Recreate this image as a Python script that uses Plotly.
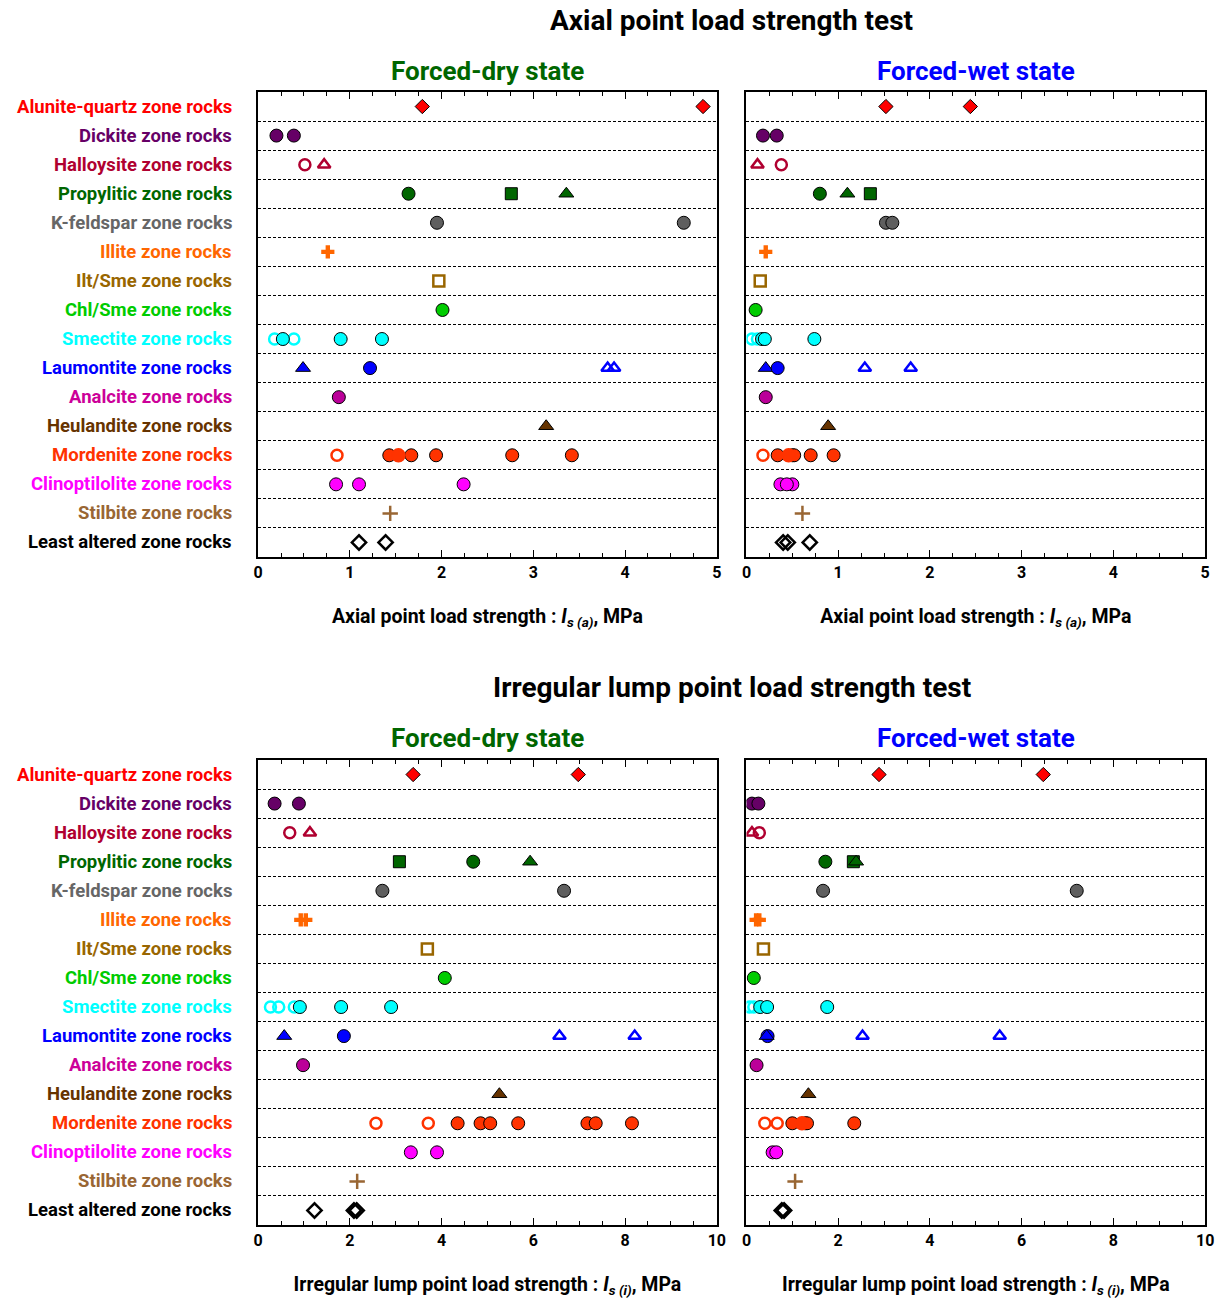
import plotly.graph_objects as go

# ---------------- data ----------------
CATEGORIES = [
    "Alunite-quartz zone rocks", "Dickite zone rocks", "Halloysite zone rocks",
    "Propylitic zone rocks", "K-feldspar zone rocks", "Illite zone rocks",
    "Ilt/Sme zone rocks", "Chl/Sme zone rocks", "Smectite zone rocks",
    "Laumontite zone rocks", "Analcite zone rocks", "Heulandite zone rocks",
    "Mordenite zone rocks", "Clinoptilolite zone rocks", "Stilbite zone rocks",
    "Least altered zone rocks",
]

# (category, sample kind, values in MPa)
AXIAL_DRY = [
    ("Alunite-quartz zone rocks", "diamond", [1.79, 4.85]),
    ("Dickite zone rocks", "circle", [0.20, 0.39]),
    ("Halloysite zone rocks", "circle_open", [0.51]),
    ("Halloysite zone rocks", "triangle_open", [0.72]),
    ("Propylitic zone rocks", "circle", [1.64]),
    ("Propylitic zone rocks", "square", [2.76]),
    ("Propylitic zone rocks", "triangle", [3.36]),
    ("K-feldspar zone rocks", "circle", [1.95, 4.64]),
    ("Illite zone rocks", "plus", [0.76]),
    ("Ilt/Sme zone rocks", "square_open", [1.97]),
    ("Chl/Sme zone rocks", "circle", [2.01]),
    ("Smectite zone rocks", "circle_open", [0.18, 0.39]),
    ("Smectite zone rocks", "circle", [0.27, 0.90, 1.35]),
    ("Laumontite zone rocks", "triangle", [0.49]),
    ("Laumontite zone rocks", "circle", [1.22]),
    ("Laumontite zone rocks", "triangle_open", [3.81, 3.88]),
    ("Analcite zone rocks", "circle", [0.88]),
    ("Heulandite zone rocks", "triangle", [3.14]),
    ("Mordenite zone rocks", "circle_open", [0.86]),
    ("Mordenite zone rocks", "circle", [1.43, 1.67, 1.94, 2.77, 3.42]),
    ("Mordenite zone rocks", "circle_self", [1.53]),
    ("Clinoptilolite zone rocks", "circle", [0.85, 1.10, 2.24]),
    ("Stilbite zone rocks", "plus_thin", [1.44]),
    ("Least altered zone rocks", "diamond_open", [1.10, 1.39]),
]

AXIAL_WET = [
    ("Alunite-quartz zone rocks", "diamond", [1.52, 2.44]),
    ("Dickite zone rocks", "circle", [0.18, 0.33]),
    ("Halloysite zone rocks", "triangle_open", [0.12]),
    ("Halloysite zone rocks", "circle_open", [0.38]),
    ("Propylitic zone rocks", "circle", [0.80]),
    ("Propylitic zone rocks", "triangle", [1.10]),
    ("Propylitic zone rocks", "square", [1.35]),
    ("K-feldspar zone rocks", "circle", [1.52, 1.59]),
    ("Illite zone rocks", "plus", [0.21]),
    ("Ilt/Sme zone rocks", "square_open", [0.15]),
    ("Chl/Sme zone rocks", "circle", [0.10]),
    ("Smectite zone rocks", "circle_open", [0.06, 0.12]),
    ("Smectite zone rocks", "circle", [0.17, 0.20, 0.74]),
    ("Laumontite zone rocks", "triangle", [0.21]),
    ("Laumontite zone rocks", "circle", [0.34]),
    ("Laumontite zone rocks", "triangle_open", [1.29, 1.79]),
    ("Analcite zone rocks", "circle", [0.21]),
    ("Heulandite zone rocks", "triangle", [0.89]),
    ("Mordenite zone rocks", "circle_open", [0.18]),
    ("Mordenite zone rocks", "circle", [0.34, 0.50, 0.52, 0.70, 0.95]),
    ("Mordenite zone rocks", "circle_self", [0.46]),
    ("Clinoptilolite zone rocks", "circle", [0.37, 0.50, 0.44]),
    ("Stilbite zone rocks", "plus_thin", [0.61]),
    ("Least altered zone rocks", "diamond_open", [0.40, 0.45, 0.69]),
]

LUMP_DRY = [
    ("Alunite-quartz zone rocks", "diamond", [3.38, 6.98]),
    ("Dickite zone rocks", "circle", [0.36, 0.89]),
    ("Halloysite zone rocks", "circle_open", [0.69]),
    ("Halloysite zone rocks", "triangle_open", [1.13]),
    ("Propylitic zone rocks", "square", [3.08]),
    ("Propylitic zone rocks", "circle", [4.69]),
    ("Propylitic zone rocks", "triangle", [5.93]),
    ("K-feldspar zone rocks", "circle", [2.71, 6.67]),
    ("Illite zone rocks", "plus", [0.93, 1.04]),
    ("Ilt/Sme zone rocks", "square_open", [3.69]),
    ("Chl/Sme zone rocks", "circle", [4.07]),
    ("Smectite zone rocks", "circle_open", [0.27, 0.45, 0.79]),
    ("Smectite zone rocks", "circle", [0.91, 1.81, 2.90]),
    ("Laumontite zone rocks", "triangle", [0.57]),
    ("Laumontite zone rocks", "circle", [1.87]),
    ("Laumontite zone rocks", "triangle_open", [6.57, 8.21]),
    ("Analcite zone rocks", "circle", [0.98]),
    ("Heulandite zone rocks", "triangle", [5.26]),
    ("Mordenite zone rocks", "circle_open", [2.57, 3.71]),
    ("Mordenite zone rocks", "circle", [4.35, 4.85, 5.06, 5.67, 7.18, 7.36, 8.15]),
    ("Clinoptilolite zone rocks", "circle", [3.33, 3.90]),
    ("Stilbite zone rocks", "plus_thin", [2.16]),
    ("Least altered zone rocks", "diamond_open", [1.23, 2.09, 2.15]),
]

LUMP_WET = [
    ("Alunite-quartz zone rocks", "diamond", [2.89, 6.47]),
    ("Dickite zone rocks", "circle", [0.12, 0.26]),
    ("Halloysite zone rocks", "triangle_open", [0.12]),
    ("Halloysite zone rocks", "circle_open", [0.28]),
    ("Propylitic zone rocks", "circle", [1.72]),
    ("Propylitic zone rocks", "square", [2.33]),
    ("Propylitic zone rocks", "triangle", [2.39]),
    ("K-feldspar zone rocks", "circle", [1.67, 7.20]),
    ("Illite zone rocks", "plus", [0.21, 0.28]),
    ("Ilt/Sme zone rocks", "square_open", [0.37]),
    ("Chl/Sme zone rocks", "circle", [0.16]),
    ("Smectite zone rocks", "circle_open", [0.07, 0.16]),
    ("Smectite zone rocks", "circle", [0.30, 0.45, 1.76]),
    ("Laumontite zone rocks", "circle", [0.46]),
    ("Laumontite zone rocks", "triangle", [0.44]),
    ("Laumontite zone rocks", "triangle_open", [2.53, 5.52]),
    ("Analcite zone rocks", "circle", [0.22]),
    ("Heulandite zone rocks", "triangle", [1.35]),
    ("Mordenite zone rocks", "circle_open", [0.40, 0.67]),
    ("Mordenite zone rocks", "circle", [1.00, 1.28, 1.32, 2.35]),
    ("Mordenite zone rocks", "circle_self", [1.21]),
    ("Clinoptilolite zone rocks", "circle", [0.57, 0.65]),
    ("Stilbite zone rocks", "plus_thin", [1.06]),
    ("Least altered zone rocks", "diamond_open", [0.77, 0.82]),
]

AXIAL_TICKS = [0, 1, 2, 3, 4, 5]
LUMP_TICKS = [0, 2, 4, 6, 8, 10]

# ---------------- styles ----------------
LABEL_COLORS = {
    "Alunite-quartz zone rocks": "#FF0000",
    "Dickite zone rocks": "#660066",
    "Halloysite zone rocks": "#B00030",
    "Propylitic zone rocks": "#006600",
    "K-feldspar zone rocks": "#666666",
    "Illite zone rocks": "#FF6600",
    "Ilt/Sme zone rocks": "#996600",
    "Chl/Sme zone rocks": "#00CC00",
    "Smectite zone rocks": "#00FFFF",
    "Laumontite zone rocks": "#0000FF",
    "Analcite zone rocks": "#CC0099",
    "Heulandite zone rocks": "#663300",
    "Mordenite zone rocks": "#FF3300",
    "Clinoptilolite zone rocks": "#FF00FF",
    "Stilbite zone rocks": "#996633",
    "Least altered zone rocks": "#000000",
}
MARKER_COLORS = dict(LABEL_COLORS)
MARKER_COLORS["K-feldspar zone rocks"] = "#5F5F5F"
MARKER_COLORS["Analcite zone rocks"] = "#BB0099"

FONT = "Roboto"


def marker_style(kind, color):
    if kind == "diamond":
        return dict(symbol="diamond", size=11, color=color, line=dict(color="black", width=1))
    if kind == "circle":
        return dict(symbol="circle", size=13, color=color, line=dict(color="black", width=1))
    if kind == "circle_self":
        return dict(symbol="circle", size=13, color=color, line=dict(color=color, width=1.5))
    if kind == "circle_open":
        return dict(symbol="circle-open", size=11, color=color, line=dict(color=color, width=2.5))
    if kind == "triangle":
        return dict(symbol="triangle-up", size=13, color=color, line=dict(color="black", width=1))
    if kind == "triangle_open":
        return dict(symbol="triangle-up-open", size=11, color=color, line=dict(color=color, width=2.5))
    if kind == "square":
        return dict(symbol="square", size=12, color=color, line=dict(color="black", width=1))
    if kind == "square_open":
        return dict(symbol="square-open", size=11, color=color, line=dict(color=color, width=2.5))
    if kind == "plus":
        return dict(symbol="cross", size=11, color=color, line=dict(width=0))
    if kind == "plus_thin":
        return dict(symbol="cross-thin-open", size=11, color=color, line=dict(color=color, width=2.5))
    if kind == "diamond_open":
        return dict(symbol="diamond-open", size=11, color="black", line=dict(color="black", width=2.5))
    return dict(symbol="circle", size=12, color=color)


W, H = 1231, 1298
fig = go.Figure()

panels = [
    (AXIAL_DRY, "x", "y"),
    (AXIAL_WET, "x2", "y2"),
    (LUMP_DRY, "x3", "y3"),
    (LUMP_WET, "x4", "y4"),
]
for data, xa, ya in panels:
    for cat, kind, vals in data:
        row = CATEGORIES.index(cat)
        fig.add_trace(go.Scatter(
            x=vals, y=[row] * len(vals), mode="markers",
            marker=marker_style(kind, MARKER_COLORS[cat]),
            xaxis=xa, yaxis=ya, showlegend=False, hoverinfo="x",
        ))

XL = [256 / W, 720 / W]
XR = [750 / W, 1214 / W]
YT = [1 - 557 / H, 1 - 92 / H]
YB = [1 - 1225 / H, 1 - 760 / H]

axial_title = "Axial point load strength : <i>I</i><sub><i>s (a)</i></sub>, MPa"
lump_title = "Irregular lump point load strength : <i>I</i><sub><i>s (i)</i></sub>, MPa"


def xaxis(domain, rng, ticks, minor, title, anchor):
    return dict(
        domain=domain, range=rng, anchor=anchor,
        tickmode="array", tickvals=ticks, ticktext=[str(t) for t in ticks],
        ticks="inside", ticklen=7, tickwidth=1, tickcolor="black",
        minor=dict(dtick=minor, tick0=0, ticks="inside", ticklen=4, tickcolor="black", tickwidth=1),
        mirror="ticks", showline=True, linecolor="black", linewidth=1.5,
        showgrid=False, zeroline=False,
        tickfont=dict(family=FONT, size=16, color="black", weight="bold"),
        title=dict(text=title, font=dict(family=FONT, size=19.5, color="black", weight="bold"),
                   standoff=28),
    )


def yaxis(domain, anchor):
    return dict(
        domain=domain, range=[15.5, -0.5], anchor=anchor,
        tickmode="array", tickvals=[i + 0.5 for i in range(15)],
        showticklabels=False, ticks="",
        showgrid=True, gridcolor="black", griddash="3px,2px", gridwidth=1,
        showline=True, linecolor="black", linewidth=1.5, mirror=True, zeroline=False,
    )


fig.update_layout(
    width=W, height=H,
    margin=dict(l=0, r=0, t=0, b=0),
    paper_bgcolor="white", plot_bgcolor="white",
    font=dict(family=FONT),
    xaxis=xaxis(XL, [0, 5], AXIAL_TICKS, 0.25, axial_title, "y"),
    yaxis=yaxis(YT, "x"),
    xaxis2=xaxis(XR, [0, 5], AXIAL_TICKS, 0.25, axial_title, "y2"),
    yaxis2=yaxis(YT, "x2"),
    xaxis3=xaxis(XL, [0, 10], LUMP_TICKS, 0.5, lump_title, "y3"),
    yaxis3=yaxis(YB, "x3"),
    xaxis4=xaxis(XR, [0, 10], LUMP_TICKS, 0.5, lump_title, "y4"),
    yaxis4=yaxis(YB, "x4"),
)

ann = []
for yref in ["y", "y3"]:
    for i, cat in enumerate(CATEGORIES):
        ann.append(dict(
            text=cat, x=232 / W, xref="paper", xanchor="right",
            y=i, yref=yref, yanchor="middle", showarrow=False,
            font=dict(family=FONT, size=18.5, color=LABEL_COLORS[cat], weight="bold"),
        ))

for title, ypix in [("Axial point load strength test", 20), ("Irregular lump point load strength test", 687)]:
    ann.append(dict(text=title, x=735 / W, y=1 - ypix / H, xref="paper", yref="paper",
                    xanchor="center", yanchor="middle", showarrow=False,
                    font=dict(family=FONT, size=28, color="black", weight="bold")))
for ypix in [71, 738]:
    ann.append(dict(text="Forced-dry state", x=488 / W, y=1 - ypix / H, xref="paper", yref="paper",
                    xanchor="center", yanchor="middle", showarrow=False,
                    font=dict(family=FONT, size=26, color="#006600", weight="bold")))
    ann.append(dict(text="Forced-wet state", x=982 / W, y=1 - ypix / H, xref="paper", yref="paper",
                    xanchor="center", yanchor="middle", showarrow=False,
                    font=dict(family=FONT, size=26, color="#0000FF", weight="bold")))

fig.update_layout(annotations=ann)
fig.write_html("out.html")
